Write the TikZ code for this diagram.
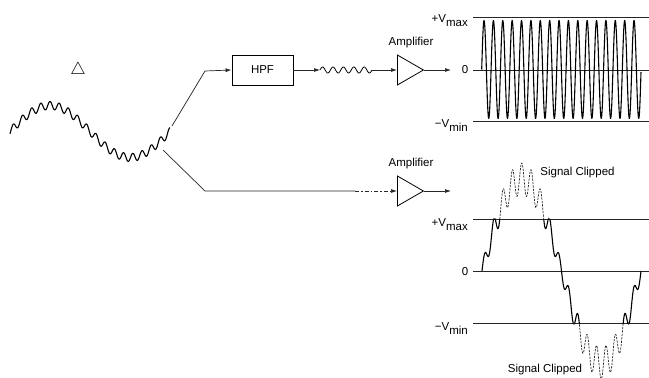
\documentclass[tikz,border=0pt]{standalone}
\usepackage{fontspec}
\setmainfont{Liberation Sans}
\usetikzlibrary{arrows.meta,shapes.geometric}
\newcommand{\vlabel}[2]{#1\raisebox{-0.7ex}{#2}}
\tikzset{
  every node/.style={font=\fontsize{11.5}{13}\selectfont,inner sep=0pt},
  conn/.style={line width=0.7pt,black!85},
  arrowed/.style={conn,-{Latex[length=6pt,width=4pt]}},
  axisline/.style={line width=1pt,black!85},
  wave/.style={line width=1.1pt,black,line join=round},
  clipwave/.style={line width=0.7pt,black!85,dash pattern=on 2.2pt off 1.2pt},
  ampl/.style={draw,line width=0.8pt,shape=isosceles triangle,isosceles triangle apex angle=60,
    isosceles triangle stretches,minimum height=26pt,minimum width=30pt,anchor=lower side},
  filterbox/.style={draw,line width=0.9pt,minimum width=61pt,minimum height=30pt},
}
\begin{document}
\begin{tikzpicture}[x=1pt,y=-1pt]
\useasboundingbox (0,0) rectangle (649,378);
% input signal
\node (delta) at (78,70) {\fontsize{17}{17}\selectfont\(\triangle\)};
\draw[wave] plot[domain=10:170,samples=420] (\x,{131.5-26*sin((\x-10)*2.25)-4*sin(39.13*(\x-50)+90)});
% coordinates
\coordinate (upstart) at (172,126);
\coordinate (upbend) at (205,71);
\coordinate (lowstart) at (163,150);
\coordinate (lowbend) at (205,191);
\coordinate (lowdash) at (355,191);
\node[filterbox] (hpf) at (262.5,70) {HPF};
\node[ampl] (amp1) at (397,70) {};
\node[ampl] (amp2) at (397,191) {};
\node (amp1label) at (411,43) {Amplifier};
\node (amp2label) at (411,164) {Amplifier};
\coordinate (out1) at (451,70);
\coordinate (out2) at (451,191);
\coordinate (hfa) at (320,70);
\coordinate (hfb) at (372,70);
% connectors
\draw[conn] (upstart) -- (upbend);
\draw[arrowed] (upbend) -- (hpf.west);
\draw[arrowed] (hpf.east) -- (hfa);
\draw[wave,line width=0.8pt] plot[domain=320:372,samples=150] (\x,{70-3*sin((\x-320)*34.6)});
\draw[arrowed] (hfb) -- (amp1.lower side);
\draw[arrowed] (amp1.apex) -- (out1);
\draw[conn] (lowstart) -- (lowbend) -- (lowdash);
\draw[arrowed,dash pattern=on 4pt off 2pt on 1.5pt off 2pt] (lowdash) -- (amp2.lower side);
\draw[arrowed] (amp2.apex) -- (out2);
% top plot
\coordinate (tl1) at (473,17);\coordinate (tr1) at (649,17);
\coordinate (tl2) at (473,70);\coordinate (tr2) at (649,70);
\coordinate (tl3) at (473,121);\coordinate (tr3) at (649,121);
\draw[axisline] (tl1) -- (tr1);
\draw[axisline] (tl2) -- (tr2);
\draw[axisline] (tl3) -- (tr3);
\draw[wave] plot[domain=481.7:641,samples=800] (\x,{69.5-49*sin((\x-481.7)*38.4)});
\node[anchor=base east] (tv1) at (468,22) {\vlabel{+V}{max}};
\node (tv2) at (465,70) {0};
\node[anchor=base east] (tv3) at (468,127) {\vlabel{−V}{min}};
% bottom plot
\coordinate (bl1) at (473,219);\coordinate (br1) at (649,219);
\coordinate (bl2) at (473,271);\coordinate (br2) at (649,271);
\coordinate (bl3) at (473,323);\coordinate (br3) at (649,323);
\draw[axisline] (bl1) -- (br1);
\draw[axisline] (bl2) -- (br2);
\draw[axisline] (bl3) -- (br3);
\begin{scope}
\clip (473,219) rectangle (649,323);
\draw[wave] plot[domain=482:641,samples=800] (\x,{271-92*sin((\x-482)*2.2642)-(7+9*abs(sin((\x-482)*2.2642)))*sin((\x-482)*38.49)});
\end{scope}
\begin{scope}
\clip (473,140) rectangle (649,219) (473,323) rectangle (649,378);
\draw[clipwave] plot[domain=482:641,samples=800] (\x,{271-92*sin((\x-482)*2.2642)-(7+9*abs(sin((\x-482)*2.2642)))*sin((\x-482)*38.49)});
\end{scope}
\node[anchor=base east] (bv1) at (468,226) {\vlabel{+V}{max}};
\node (bv2) at (465,272) {0};
\node[anchor=base east] (bv3) at (468,330) {\vlabel{−V}{min}};
\node (clip1) at (577.5,173) {Signal Clipped};
\node (clip2) at (545,370) {Signal Clipped};
\end{tikzpicture}
\end{document}
